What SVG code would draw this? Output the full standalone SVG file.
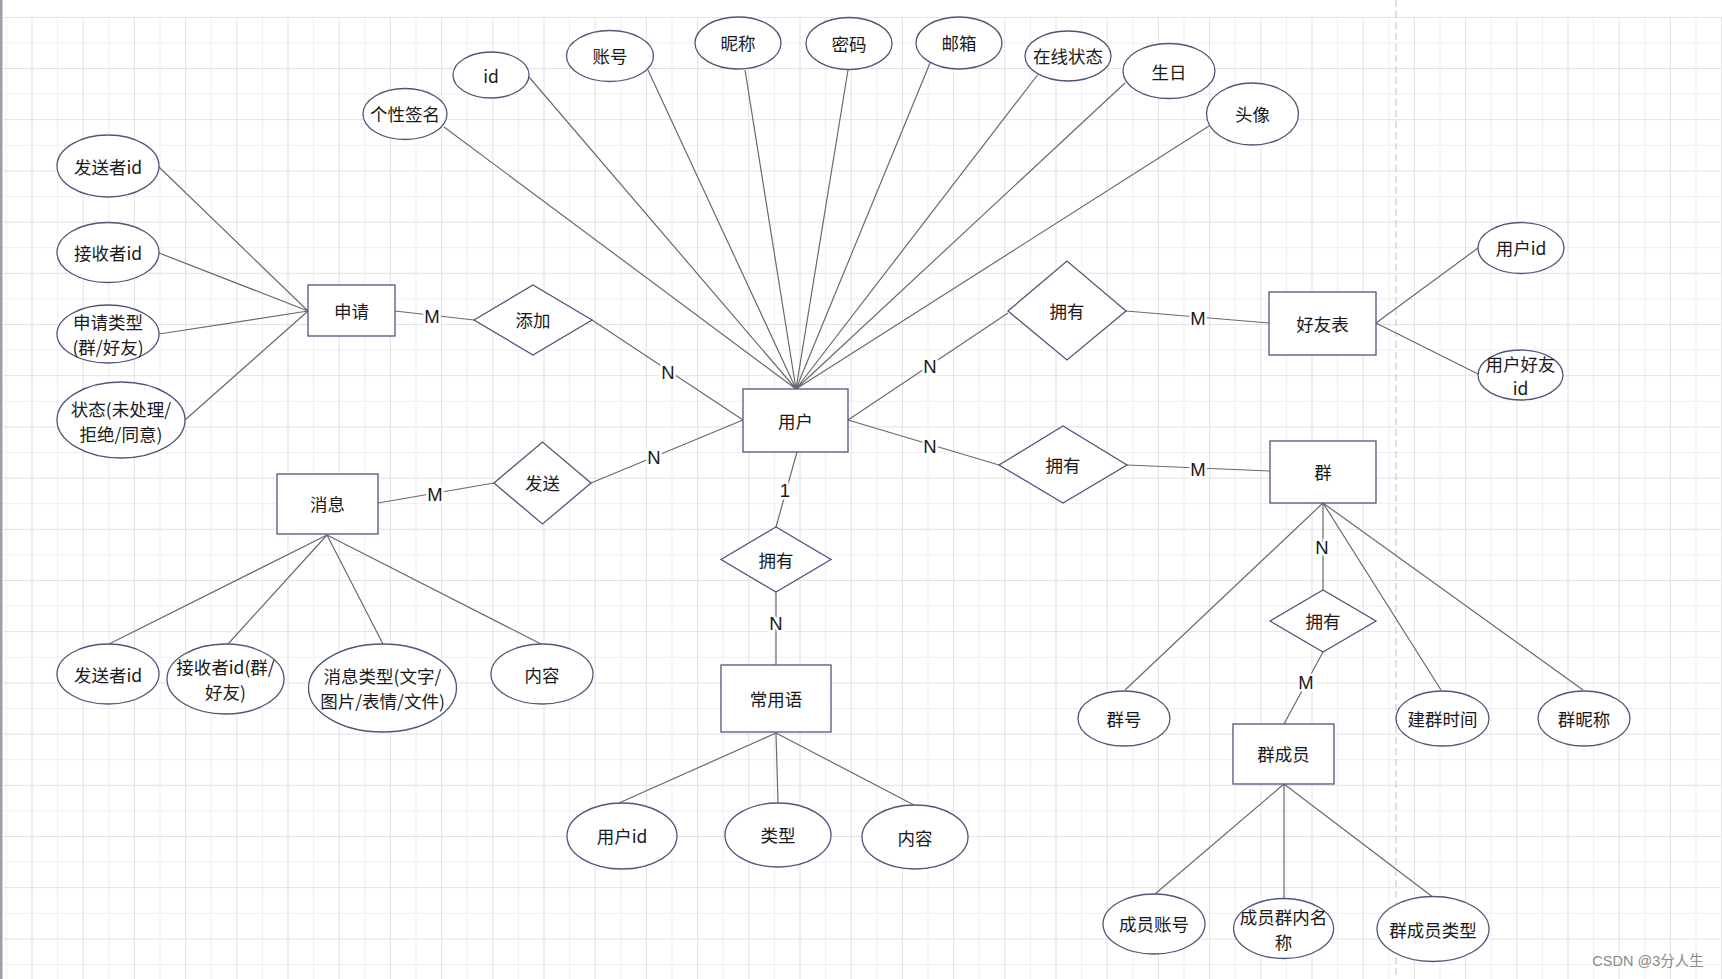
<svg xmlns="http://www.w3.org/2000/svg" width="1722" height="979" viewBox="0 0 1722 979">
<defs>
<pattern id="grid" x="31.5" y="16.8" width="51.2" height="51.2" patternUnits="userSpaceOnUse">
<path d="M26.1 0V51.2M0 26.1H51.2" stroke="#eeeeee" stroke-width="1" fill="none"/>
<path d="M0.5 0V51.2M0 0.5H51.2" stroke="#e1e1e1" stroke-width="1" fill="none"/>
</pattern>
<style>
.sh{fill:#ffffff;stroke:#50557a;stroke-width:1.3}
.ln{stroke:#6a6a6a;stroke-width:1.2;fill:none}
.t{font-family:"Noto Sans CJK SC","Liberation Sans",sans-serif;font-size:17.5px;fill:#1a1a1a;text-anchor:middle;dominant-baseline:central}
.lb{font-family:"Liberation Sans","Noto Sans CJK SC",sans-serif;font-size:18.5px;fill:#1a1a1a;text-anchor:middle;dominant-baseline:central;stroke:#ffffff;stroke-width:5;paint-order:stroke}
</style>
</defs>
<rect x="0" y="0" width="1722" height="979" fill="#ffffff"/>
<rect x="3" y="16.8" width="1719" height="963" fill="url(#grid)"/>
<rect x="0" y="0" width="2.5" height="979" fill="#9aa0a8"/>
<line x1="1396" y1="0" x2="1396" y2="979" stroke="#cccccc" stroke-width="1.2" stroke-dasharray="7 4"/>

<g id="connectors">
<path class="ln" d="M444 127L796 389M529 77L796 389M648 70L796 389M745 70L796 389M848 70L796 389M930 63L796 389M1037.5 75L796 389M1125 83L796 389M1209 126L796 389"/>
<path class="ln" d="M159 167L308 311M159 253L308 311M159 334L308 311M185 420L308 311"/>
<path class="ln" d="M395 311L474 320M592 320L743 420"/>
<path class="ln" d="M378 503L494 483M591 483L743 420"/>
<path class="ln" d="M327 535L109 644M327 535L228 644M327 535L383 644M327 535L541 644"/>
<path class="ln" d="M797 452L776 527M776 592L776 665"/>
<path class="ln" d="M776 733L619 803M776 733L778 803M776 733L914 805"/>
<path class="ln" d="M848 420L1008 313M1126 311L1269 323"/>
<path class="ln" d="M1376 323L1478 248M1376 323L1478 374"/>
<path class="ln" d="M848 420L999 465M1127 465L1270 471"/>
<path class="ln" d="M1323 503L1323 590M1323 652L1284 724"/>
<path class="ln" d="M1323 503L1125 690M1323 503L1441 690M1323 503L1583 690"/>
<path class="ln" d="M1284 784L1155 894M1284 784L1284 899M1284 784L1431.5 896"/>
<text class="lb" x="432" y="316">M</text>
<text class="lb" x="668" y="372">N</text>
<text class="lb" x="435" y="494">M</text>
<text class="lb" x="654" y="457">N</text>
<text class="lb" x="785" y="490">1</text>
<text class="lb" x="776" y="623">N</text>
<text class="lb" x="930" y="366">N</text>
<text class="lb" x="1198" y="318">M</text>
<text class="lb" x="930" y="446">N</text>
<text class="lb" x="1198" y="469">M</text>
<text class="lb" x="1322" y="547">N</text>
<text class="lb" x="1306" y="682">M</text>
</g>

<g id="user"><rect class="sh" x="743" y="389" width="105" height="63"/><text class="t" x="795.5" y="420">用户</text></g>
<g id="apply"><rect class="sh" x="308" y="285" width="87" height="51"/><text class="t" x="351.5" y="310">申请</text></g>
<g id="message"><rect class="sh" x="277" y="474" width="101" height="60"/><text class="t" x="327.5" y="503.5">消息</text></g>
<g id="phrase"><rect class="sh" x="721" y="665" width="110" height="67"/><text class="t" x="776" y="698">常用语</text></g>
<g id="friends"><rect class="sh" x="1269" y="292" width="107" height="63"/><text class="t" x="1322.5" y="323">好友表</text></g>
<g id="group"><rect class="sh" x="1270" y="441" width="106" height="62"/><text class="t" x="1323" y="471.5">群</text></g>
<g id="member"><rect class="sh" x="1233" y="724" width="101" height="60"/><text class="t" x="1283.5" y="753.5">群成员</text></g>

<g id="rel-add"><polygon class="sh" points="474,320 533,285 592,320 533,355"/><text class="t" x="533" y="319.5">添加</text></g>
<g id="rel-send"><polygon class="sh" points="494,483 542.5,442 591,483 542.5,524"/><text class="t" x="542.5" y="482.5">发送</text></g>
<g id="rel-own-phrase"><polygon class="sh" points="721,559.5 776,527 831,559.5 776,592"/><text class="t" x="776" y="559">拥有</text></g>
<g id="rel-own-friend"><polygon class="sh" points="1008,311 1067,261 1126,311 1067,360"/><text class="t" x="1067" y="310.5">拥有</text></g>
<g id="rel-own-group"><polygon class="sh" points="999,465 1063,426 1127,465 1063,503"/><text class="t" x="1063" y="464.5">拥有</text></g>
<g id="rel-own-member"><polygon class="sh" points="1270,621 1323,590 1376,621 1323,652"/><text class="t" x="1323" y="620.5">拥有</text></g>

<g id="a-sign"><ellipse class="sh" cx="405" cy="114" rx="42" ry="25.5"/><text class="t" x="405" y="113.5">个性签名</text></g>
<g id="a-id"><ellipse class="sh" cx="491" cy="75" rx="38" ry="23"/><text class="t" x="491" y="75.5">id</text></g>
<g id="a-account"><ellipse class="sh" cx="610" cy="56" rx="43.5" ry="25.5"/><text class="t" x="610" y="55.5">账号</text></g>
<g id="a-nick"><ellipse class="sh" cx="738" cy="43" rx="43" ry="26"/><text class="t" x="738" y="42.5">昵称</text></g>
<g id="a-pwd"><ellipse class="sh" cx="849" cy="43.5" rx="43" ry="26"/><text class="t" x="849" y="43">密码</text></g>
<g id="a-mail"><ellipse class="sh" cx="959" cy="43" rx="43" ry="26"/><text class="t" x="959" y="42.5">邮箱</text></g>
<g id="a-online"><ellipse class="sh" cx="1068" cy="56" rx="43" ry="25"/><text class="t" x="1068" y="55.5">在线状态</text></g>
<g id="a-birth"><ellipse class="sh" cx="1169" cy="71" rx="46" ry="27.5"/><text class="t" x="1169" y="71.5">生日</text></g>
<g id="a-avatar"><ellipse class="sh" cx="1252.5" cy="114" rx="46" ry="31"/><text class="t" x="1252.5" y="113.5">头像</text></g>

<g id="ap-sender"><ellipse class="sh" cx="108" cy="166" rx="51" ry="31"/><text class="t" x="108" y="166.5">发送者id</text></g>
<g id="ap-receiver"><ellipse class="sh" cx="108" cy="252.5" rx="51" ry="30"/><text class="t" x="108" y="252.5">接收者id</text></g>
<g id="ap-type"><ellipse class="sh" cx="108" cy="334" rx="51" ry="29"/><text class="t" x="108" y="321.5">申请类型</text><text class="t" x="108" y="346.5">(群/好友)</text></g>
<g id="ap-state"><ellipse class="sh" cx="121" cy="420" rx="64" ry="38"/><text class="t" x="121" y="408.5">状态(未处理/</text><text class="t" x="121" y="433.5">拒绝/同意)</text></g>

<g id="m-sender"><ellipse class="sh" cx="108" cy="674" rx="51" ry="30"/><text class="t" x="108" y="674.5">发送者id</text></g>
<g id="m-receiver"><ellipse class="sh" cx="225.5" cy="679" rx="58.5" ry="35"/><text class="t" x="225.5" y="666.5">接收者id(群/</text><text class="t" x="225.5" y="691.5">好友)</text></g>
<g id="m-type"><ellipse class="sh" cx="382.5" cy="688" rx="74" ry="44"/><text class="t" x="382.5" y="675.5">消息类型(文字/</text><text class="t" x="382.5" y="700.5">图片/表情/文件)</text></g>
<g id="m-content"><ellipse class="sh" cx="542" cy="674" rx="51" ry="30"/><text class="t" x="542" y="674.5">内容</text></g>

<g id="p-uid"><ellipse class="sh" cx="622" cy="836" rx="55" ry="33"/><text class="t" x="622" y="835.5">用户id</text></g>
<g id="p-type"><ellipse class="sh" cx="778" cy="835" rx="53" ry="32"/><text class="t" x="778" y="834.5">类型</text></g>
<g id="p-content"><ellipse class="sh" cx="915" cy="837" rx="53" ry="32"/><text class="t" x="915" y="837.5">内容</text></g>

<g id="f-uid"><ellipse class="sh" cx="1521" cy="248" rx="43" ry="25.5"/><text class="t" x="1521" y="247.5">用户id</text></g>
<g id="f-fid"><ellipse class="sh" cx="1520.5" cy="375" rx="42.5" ry="25"/><text class="t" x="1520.5" y="363.5">用户好友</text><text class="t" x="1520.5" y="387.5">id</text></g>

<g id="g-no"><ellipse class="sh" cx="1124" cy="718.5" rx="46" ry="27.5"/><text class="t" x="1124" y="718.5">群号</text></g>
<g id="g-time"><ellipse class="sh" cx="1442.5" cy="718.5" rx="46.5" ry="27.5"/><text class="t" x="1442.5" y="718.5">建群时间</text></g>
<g id="g-nick"><ellipse class="sh" cx="1584" cy="718.5" rx="46" ry="27.5"/><text class="t" x="1584" y="718.5">群昵称</text></g>

<g id="mb-acc"><ellipse class="sh" cx="1154" cy="924" rx="51" ry="30"/><text class="t" x="1154" y="923.5">成员账号</text></g>
<g id="mb-name"><ellipse class="sh" cx="1283.6" cy="928.5" rx="50" ry="30"/><text class="t" x="1283.6" y="916.5">成员群内名</text><text class="t" x="1283.6" y="941.5">称</text></g>
<g id="mb-type"><ellipse class="sh" cx="1433" cy="929" rx="56" ry="32.5"/><text class="t" x="1433" y="929.5">群成员类型</text></g>

<text x="1648" y="961" font-family="Liberation Sans,'Noto Sans CJK SC',sans-serif" font-size="14.5" fill="#8a8a8a" text-anchor="middle" dominant-baseline="central">CSDN @3分人生</text>
</svg>
